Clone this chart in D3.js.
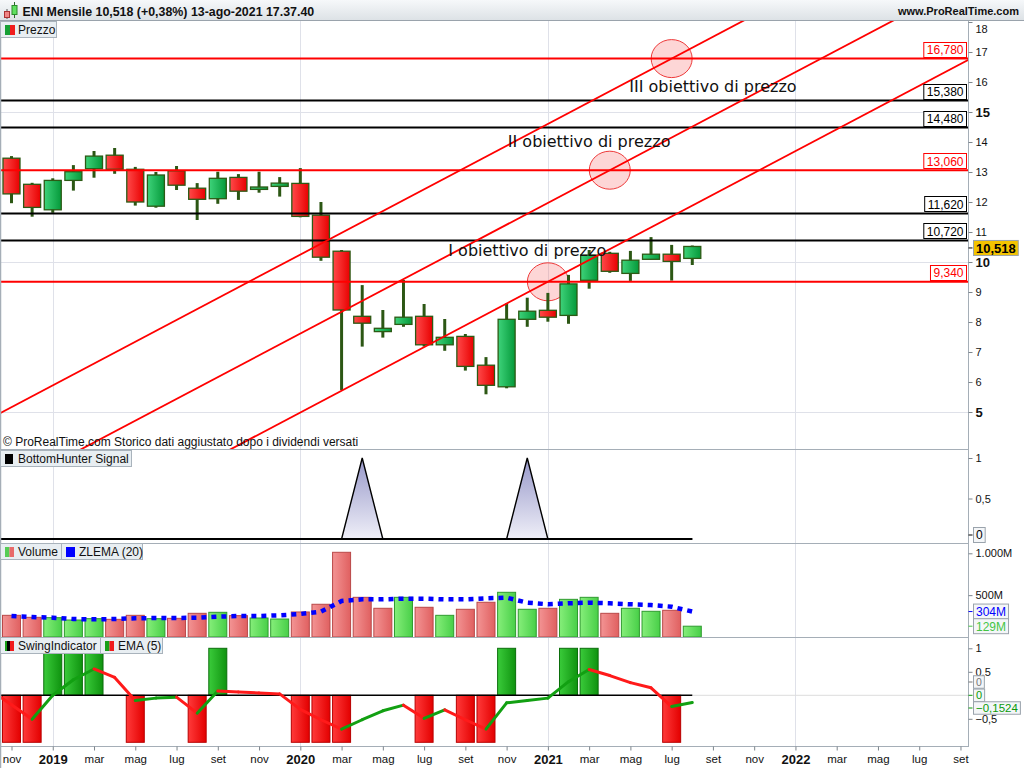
<!DOCTYPE html>
<html>
<head>
<meta charset="utf-8">
<title>ENI Mensile</title>
<script src="https://cdn.jsdelivr.net/npm/d3@7"></script>
<style>
  html, body { margin: 0; padding: 0; background: #ffffff; }
  svg { display: block; }
  text { font-family: "Liberation Sans", Arial, sans-serif; }
</style>
</head>
<body>
<svg id="chart" width="1024" height="768"></svg>
<script>
// ---------- data (monthly bars, Nov 2018 .. Aug 2021) ----------
const months = ["2018-11","2018-12","2019-01","2019-02","2019-03","2019-04","2019-05","2019-06",
  "2019-07","2019-08","2019-09","2019-10","2019-11","2019-12","2020-01","2020-02","2020-03",
  "2020-04","2020-05","2020-06","2020-07","2020-08","2020-09","2020-10","2020-11","2020-12",
  "2021-01","2021-02","2021-03","2021-04","2021-05","2021-06","2021-07","2021-08"];

const open  = [13.46,12.59,11.74,12.72,13.11,13.56,13.09,11.86,13.04,12.46,12.11,12.82,12.42,12.52,
  12.62,11.56,10.36,8.19,7.68,7.92,8.19,7.24,7.52,6.56,5.84,8.09,8.39,8.22,9.39,10.29,9.62,10.09,10.26,10.12];
const high  = [13.53,12.64,12.79,13.23,13.70,13.80,13.17,13.00,13.20,12.63,13.01,12.93,13.01,12.83,
  13.13,12.00,10.40,9.23,8.40,9.40,8.60,8.10,7.60,6.83,8.62,8.81,8.97,9.57,10.40,10.34,10.37,10.83,10.57,10.55];
const low   = [11.96,11.51,11.64,12.38,12.81,12.94,11.88,11.81,12.40,11.40,11.94,12.07,12.31,12.18,
  11.49,10.04,5.73,7.18,7.48,7.84,7.18,7.04,6.38,5.59,5.79,7.84,8.01,7.94,9.11,9.64,9.37,10.09,9.38,9.90];
const close = [12.27,11.82,12.72,13.01,13.53,13.09,12.00,12.90,12.56,12.09,12.79,12.36,12.50,12.63,
  11.52,10.16,8.40,7.96,7.79,8.16,7.24,7.49,6.52,5.89,8.09,8.36,8.16,9.27,10.23,9.69,10.06,10.26,10.02,10.518];
const lastPrice = 10.518;

// volume and ZLEMA(20), millions of shares
const volume = [259,235,231,203,219,211,259,219,223,283,295,255,227,215,299,391,1012,474,343,474,
  355,259,331,415,534,331,343,450,474,283,343,307,319,129];
const zlema  = [251,239,231,215,211,215,223,227,227,231,243,251,251,259,275,302,430,450,450,458,
  458,450,450,462,470,410,391,403,410,403,391,382,362,304];

// BottomHunter signal (value of the month before the first bar, then one per bar)
const bottomHunterPrev = 0;
const bottomHunter = [0,0,0,0,0,0,0,0,0,0,0,0,0,0,0,0,0,1,0,0,0,0,0,0,0,1,0,0,0,0,0,0,0,0];

// SwingIndicator and its EMA(5)
const swing = [-1,-1,1,1,1,0,-1,0,0,-1,1,0,0,0,-1,-1,-1,0,0,0,-1,0,-1,-1,1,0,0,1,1,0,0,0,-1,0];
const emaPrev = 0.10;
const ema5 = [-0.20,-0.51,0.00,0.33,0.56,0.38,-0.11,-0.06,-0.04,-0.38,0.09,0.07,0.05,0.03,-0.30,
  -0.52,-0.72,-0.52,-0.33,-0.21,-0.49,-0.31,-0.52,-0.72,-0.16,-0.11,-0.06,0.29,0.55,0.42,0.27,0.16,-0.24,-0.1524];

// horizontal price levels
const redLevels   = [16.78, 13.06, 9.34];
const blackLevels = [15.38, 14.48, 11.62, 10.72];

// rising channel: one line through each target point, common slope (price per month)
const targetMonth = [26, 29, 32];          // Jan 2021, Apr 2021, Jul 2021
const targetPrice = [9.34, 13.06, 16.78];
const channelSlope = 0.363;
const targetText  = ["I obiettivo di prezzo", "II obiettivo di prezzo", "III obiettivo di prezzo"];
const targetTextMonth = [25, 28, 34];
const targetTextPrice = [10.20, 13.83, 15.67];

// axis ticks
const priceTicks = [5,6,7,8,9,10,11,12,13,14,15,16,17,18];
const priceBold  = [5,10,15];
const timeTickIdx = [0,2,4,6,8,10,12,14,16,18,20,22,24,26,28,30,32,34,36,38,40,42,44,46];
const timeTickLabels = ["nov","2019","mar","mag","lug","set","nov","2020","mar","mag","lug","set",
  "nov","2021","mar","mag","lug","set","nov","2022","mar","mag","lug","set"];
const yearIdx = [2,14,26,38];

// ---------- layout ----------
const W = 1024, H = 768, AX = 969;
const FONT = '"Liberation Sans", Arial, sans-serif';
const svg = d3.select("#chart");
const defs = svg.append("defs");
const it = d3.formatLocale({decimal: ",", thousands: ".", grouping: [3], currency: ["€", ""]});

const x = d3.scaleLinear().domain([0, 46]).range([11.5, 11.5 + 46 * 20.63]);
const yP = d3.scaleLinear().domain([5, 18]).range([412, 22]);
const yB = d3.scaleLinear().domain([0, 1]).range([539, 458]);
const yV = d3.scaleLinear().domain([0, 1000]).range([637, 553.3]);
const yS = d3.scaleLinear().domain([-1, 1]).range([742.3, 648.3]);

const panels = {
  price: [21, 449], bh: [450, 543], vol: [544, 637], sw: [638, 746]
};

function grad(id, c0, c1, vertical, y0, y1) {
  const g = defs.append("linearGradient").attr("id", id);
  if (vertical) {
    g.attr("gradientUnits", "userSpaceOnUse").attr("x1", 0).attr("x2", 0).attr("y1", y0).attr("y2", y1);
  } else {
    g.attr("x1", 0).attr("x2", 1).attr("y1", 0).attr("y2", 0);
  }
  g.append("stop").attr("offset", 0).attr("stop-color", c0);
  g.append("stop").attr("offset", 1).attr("stop-color", c1);
}
grad("candleUp", "#3ed37a", "#05993a");
grad("candleDn", "#ff4a4a", "#e80000");
grad("volUp", "#86ee7a", "#48cf48");
grad("volDn", "#f39494", "#e06060");
grad("swUp", "#3acb3a", "#0f930f");
grad("swDn", "#ff3a3a", "#e30000");
grad("header", "#f6f8fa", "#dde2e6", true, 0, 20);
grad("bhFill", "#9798c9", "#efeff8", true, 458, 539);

for (const [k, [y0, y1]] of Object.entries(panels)) {
  defs.append("clipPath").attr("id", "clip-" + k)
    .append("rect").attr("x", 0).attr("y", y0).attr("width", AX).attr("height", y1 - y0);
}

svg.append("rect").attr("width", W).attr("height", H).attr("fill", "#ffffff");

// ---------- vertical grid (year starts) ----------
const grid = svg.append("g");
for (const [k, [y0, y1]] of Object.entries(panels)) {
  grid.selectAll(null).data(yearIdx).join("line")
    .attr("x1", d => Math.round(x(d)) + 0.5).attr("x2", d => Math.round(x(d)) + 0.5)
    .attr("y1", y0).attr("y2", y1).attr("stroke", "#dfe1e9").attr("stroke-width", 1);
}
grid.selectAll(null).data(priceBold).join("line")
  .attr("x1", 0).attr("x2", AX).attr("y1", d => Math.round(yP(d)) + 0.5).attr("y2", d => Math.round(yP(d)) + 0.5)
  .attr("stroke", "#dfe1e9");

// ---------- price panel ----------
const gP = svg.append("g").attr("clip-path", "url(#clip-price)");

// target circles
gP.selectAll("ellipse").data(targetMonth).join("ellipse")
  .attr("cx", d => x(d)).attr("cy", (d, i) => yP(targetPrice[i]))
  .attr("rx", 20.5).attr("ry", 19)
  .attr("fill", "rgba(250,120,120,0.30)").attr("stroke", "#ee3a3a").attr("stroke-width", 1);

// candles
const bars = months.map((m, i) => ({i, o: open[i], h: high[i], l: low[i], c: close[i]}));
const gC = gP.append("g");
gC.selectAll("line.wick").data(bars).join("line").attr("class", "wick")
  .attr("x1", d => x(d.i)).attr("x2", d => x(d.i))
  .attr("y1", d => yP(d.h)).attr("y2", d => yP(d.l))
  .attr("stroke", "#2c5714").attr("stroke-width", 3);
gC.selectAll("rect.body").data(bars).join("rect").attr("class", "body")
  .attr("x", d => x(d.i) - 8.5).attr("width", 17)
  .attr("y", d => yP(Math.max(d.o, d.c)))
  .attr("height", d => Math.max(2, Math.abs(yP(d.o) - yP(d.c))))
  .attr("fill", d => d.c >= d.o ? "url(#candleUp)" : "url(#candleDn)")
  .attr("stroke", "#2c5a14").attr("stroke-width", 1.3);

// horizontal levels
const levels = redLevels.map(v => ({v, col: "#ff0000"})).concat(blackLevels.map(v => ({v, col: "#000000"})));
gP.selectAll("line.level").data(levels).join("line").attr("class", "level")
  .attr("x1", 0).attr("x2", AX).attr("y1", d => yP(d.v)).attr("y2", d => yP(d.v))
  .attr("stroke", d => d.col).attr("stroke-width", 2);

// channel lines
gP.selectAll("line.chan").data(targetMonth).join("line").attr("class", "chan")
  .attr("x1", x(-2)).attr("x2", x(50))
  .attr("y1", (d, i) => yP(targetPrice[i] + (-2 - d) * channelSlope))
  .attr("y2", (d, i) => yP(targetPrice[i] + (50 - d) * channelSlope))
  .attr("stroke", "#ff0000").attr("stroke-width", 1.8);

// target captions
gP.selectAll("text.target").data(targetText).join("text").attr("class", "target")
  .attr("x", (d, i) => x(targetTextMonth[i])).attr("y", (d, i) => yP(targetTextPrice[i]))
  .attr("text-anchor", "middle").style("font-family", '"DejaVu Sans", sans-serif')
  .attr("font-size", 16).attr("fill", "#111").text(d => d);

// level value boxes at the right edge
const gLab = svg.append("g");
levels.forEach(d => {
  const t = gLab.append("text").attr("font-size", 12).attr("fill", d.col)
    .attr("text-anchor", "end").attr("x", 963.5).attr("y", yP(d.v) - 4.5)
    .text(it.format(".3f")(d.v));
  const w = t.node().getComputedTextLength() + 6;
  gLab.insert("rect", "text").attr("x", 966.5 - w).attr("y", Math.round(yP(d.v)) - 16.5)
    .attr("width", w).attr("height", 15).attr("fill", "#fff").attr("stroke", d.col).attr("stroke-width", 1);
});

svg.append("text").attr("x", 3).attr("y", 446).attr("font-size", 12).attr("fill", "#111")
  .text("© ProRealTime.com  Storico dati aggiustato dopo i dividendi versati");

// ---------- BottomHunter panel ----------
const gB = svg.append("g").attr("clip-path", "url(#clip-bh)");
const bhData = [{i: -1, v: bottomHunterPrev}].concat(bottomHunter.map((v, i) => ({i, v})));
gB.append("path").datum(bhData)
  .attr("d", d3.area().x(d => x(d.i)).y0(yB(0)).y1(d => yB(d.v)))
  .attr("fill", "url(#bhFill)");
gB.append("path").datum(bhData)
  .attr("d", d3.line().x(d => x(d.i)).y(d => yB(d.v)))
  .attr("fill", "none").attr("stroke", "#000").attr("stroke-width", 1.4);
gB.append("line").attr("x1", 0).attr("x2", x(33)).attr("y1", yB(0)).attr("y2", yB(0))
  .attr("stroke", "#000").attr("stroke-width", 2);

// ---------- Volume panel ----------
const gV = svg.append("g").attr("clip-path", "url(#clip-vol)");
const volUp = volume.map((v, i) => i === 0 ? close[0] >= open[0] : close[i] >= close[i - 1]);
gV.selectAll("rect").data(volume).join("rect")
  .attr("x", (d, i) => x(i) - 9).attr("width", 18)
  .attr("y", d => yV(d)).attr("height", d => yV(0) - yV(d))
  .attr("fill", (d, i) => volUp[i] ? "url(#volUp)" : "url(#volDn)")
  .attr("stroke", (d, i) => volUp[i] ? "#2f9b2f" : "#b94848").attr("stroke-width", 1);
gV.append("path").datum(zlema)
  .attr("d", d3.line().x((d, i) => x(i)).y(d => yV(d)))
  .attr("fill", "none").attr("stroke", "#0000ff").attr("stroke-width", 4.5)
  .attr("stroke-dasharray", "5,5");

// ---------- Swing panel ----------
const gS = svg.append("g").attr("clip-path", "url(#clip-sw)");
gS.append("line").attr("x1", x(33)).attr("x2", AX).attr("y1", yS(0)).attr("y2", yS(0))
  .attr("stroke", "#dcdcdc").attr("stroke-width", 1);
const swBars = swing.map((v, i) => ({i, v})).filter(d => d.v !== 0);
gS.selectAll("rect").data(swBars).join("rect")
  .attr("x", d => x(d.i) - 9).attr("width", 18)
  .attr("y", d => Math.min(yS(0), yS(d.v))).attr("height", d => Math.abs(yS(d.v) - yS(0)))
  .attr("fill", d => d.v > 0 ? "url(#swUp)" : "url(#swDn)")
  .attr("stroke", d => d.v > 0 ? "#0b6e0b" : "#b80000").attr("stroke-width", 1);
gS.append("line").attr("x1", 0).attr("x2", x(33)).attr("y1", yS(0)).attr("y2", yS(0))
  .attr("stroke", "#000").attr("stroke-width", 1.5);
const emaPts = [{i: -1, v: emaPrev}].concat(ema5.map((v, i) => ({i, v})));
const emaSeg = d3.pairs(emaPts);
gS.selectAll("line.ema").data(emaSeg).join("line").attr("class", "ema")
  .attr("x1", d => x(d[0].i)).attr("y1", d => yS(d[0].v))
  .attr("x2", d => x(d[1].i)).attr("y2", d => yS(d[1].v))
  .attr("stroke", d => d[1].v > d[0].v ? "#12a012" : "#ff1a1a")
  .attr("stroke-width", 3).attr("stroke-linecap", "round");

// ---------- frame ----------
const frame = svg.append("g").attr("stroke", "#a5aeb7").attr("stroke-width", 1);
[449.5, 543.5, 637.5, 746.5].forEach(y => frame.append("line").attr("x1", 0).attr("x2", AX).attr("y1", y).attr("y2", y));
frame.append("line").attr("x1", AX - 0.5).attr("x2", AX - 0.5).attr("y1", 20).attr("y2", 747);
frame.append("line").attr("x1", 0.5).attr("x2", 0.5).attr("y1", 20).attr("y2", 768).attr("stroke-width", 1.5);

// ---------- axes ----------
function styleAxis(g, size) {
  g.select(".domain").remove();
  g.selectAll(".tick line").attr("stroke", "#7d858c");
  g.selectAll(".tick text").attr("fill", "#111").style("font-family", FONT).attr("font-size", size || 11);
}
const axP = svg.append("g").attr("transform", `translate(${AX - 0.5},0)`)
  .call(d3.axisRight(yP).tickValues(priceTicks).tickSize(4).tickPadding(3).tickFormat(d => d));
styleAxis(axP, 11);
axP.selectAll(".tick text").filter(d => priceBold.includes(d)).attr("font-weight", "bold").attr("font-size", 13);
axP.selectAll(".tick").filter(d => d === 18).select("text").attr("dy", "0.95em");

const axB = svg.append("g").attr("transform", `translate(${AX - 0.5},0)`)
  .call(d3.axisRight(yB).tickValues([1, 0.5]).tickSize(4).tickPadding(3).tickFormat(it.format("~g")));
styleAxis(axB, 11);

const axV = svg.append("g").attr("transform", `translate(${AX - 0.5},0)`)
  .call(d3.axisRight(yV).tickValues([1000, 500]).tickSize(4).tickPadding(3).tickFormat(d => it.format(",")(d) + "M"));
styleAxis(axV, 11);

const axS = svg.append("g").attr("transform", `translate(${AX - 0.5},0)`)
  .call(d3.axisRight(yS).tickValues([1, 0.5, -0.5]).tickSize(4).tickPadding(3).tickFormat(it.format("~g")));
styleAxis(axS, 11);

const axT = svg.append("g").attr("transform", "translate(0,746.5)")
  .call(d3.axisBottom(x).tickValues(timeTickIdx).tickSize(4).tickPadding(4).tickFormat((d, i) => timeTickLabels[i]));
styleAxis(axT, 11.5);
axT.selectAll(".tick text").filter((d, i) => /^\d{4}$/.test(timeTickLabels[i]))
  .attr("font-weight", "bold").attr("font-size", 13);

// current value boxes on the right axis
function valueBox(yc, label, color, opts = {}) {
  const g = svg.append("g");
  const hh = opts.h || 15, fs = opts.size || 12;
  g.append("line").attr("x1", AX - 0.5).attr("x2", AX + 3.5).attr("y1", yc).attr("y2", yc)
    .attr("stroke", color).attr("stroke-width", 1);
  const t = g.append("text").attr("x", 976).attr("y", yc + fs * 0.36)
    .attr("font-size", fs).attr("font-weight", opts.bold ? "bold" : null)
    .attr("fill", opts.textColor || color).text(label);
  const w = t.node().getComputedTextLength() + 5;
  g.insert("rect", "text").attr("x", 973.5).attr("y", yc - hh / 2).attr("width", w).attr("height", hh)
    .attr("fill", opts.fill || "#f4f6f8").attr("stroke", "#9aa3ac").attr("stroke-width", 1);
}
valueBox(yP(lastPrice) + 1.5, it.format(".3f")(lastPrice), "#000", {bold: true, size: 13, fill: "#f4c300"});
valueBox(535, "0", "#000", {});
valueBox(yV(zlema[zlema.length - 1]), it.format("d")(zlema[zlema.length - 1]) + "M", "#0000ff", {});
valueBox(yV(volume[volume.length - 1]), it.format("d")(volume[volume.length - 1]) + "M", "#44c544", {});
valueBox(682, "0", "#777", {h: 12.5, size: 10.5});
valueBox(yS(0), "0", "#0a9a0a", {h: 12.5, size: 11});
valueBox(708, it.format(".4f")(ema5[ema5.length - 1]), "#0a9a0a", {h: 12.5, size: 11.5});

// ---------- header ----------
svg.append("rect").attr("x", 0).attr("y", 0).attr("width", W).attr("height", 20).attr("fill", "url(#header)");
svg.append("line").attr("x1", 0).attr("x2", W).attr("y1", 20.5).attr("y2", 20.5).attr("stroke", "#9aa3ac");
const icon = svg.append("g");
icon.append("line").attr("x1", 7).attr("x2", 7).attr("y1", 9).attr("y2", 19).attr("stroke", "#555");
icon.append("rect").attr("x", 4.5).attr("y", 11.5).attr("width", 5).attr("height", 6).attr("fill", "#f08585").attr("stroke", "#a33");
icon.append("line").attr("x1", 14.5).attr("x2", 14.5).attr("y1", 2).attr("y2", 18).attr("stroke", "#2a6a2a");
icon.append("rect").attr("x", 12).attr("y", 5.5).attr("width", 5).attr("height", 9).attr("fill", "#5fe05f").attr("stroke", "#2a8a2a");
svg.append("text").attr("x", 22.5).attr("y", 15.5).attr("font-size", 12.4).attr("font-weight", "bold").attr("fill", "#111")
  .text("ENI Mensile 10,518 (+0,38%) 13-ago-2021 17.37.40");
svg.append("text").attr("x", 1019).attr("y", 15).attr("text-anchor", "end").attr("font-size", 11).attr("font-weight", "bold").attr("fill", "#111")
  .text("www.ProRealTime.com");

// ---------- legends ----------
function legendBox(x0, y0, w, label, drawIcon) {
  const g = svg.append("g");
  g.append("rect").attr("x", x0 + 0.5).attr("y", y0 + 0.5).attr("width", w).attr("height", 16)
    .attr("fill", "#e8eef2").attr("stroke", "#a9b3bc");
  drawIcon(g, x0 + 5, y0 + 4);
  g.append("text").attr("x", x0 + 18).attr("y", y0 + 13).attr("font-size", 12).attr("fill", "#111").text(label);
}
function stripes(cols, widths) {
  return (g, ix, iy) => {
    let xx = ix;
    cols.forEach((c, k) => {
      g.append("rect").attr("x", xx).attr("y", iy).attr("width", widths[k]).attr("height", 10).attr("fill", c);
      xx += widths[k];
    });
  };
}
legendBox(0, 21, 56, "Prezzo", stripes(["#15a035", "#f01c1c"], [5, 5]));
legendBox(0, 450, 131, "BottomHunter Signal", stripes(["#000"], [8]));
legendBox(0, 543, 61, "Volume", stripes(["#55cc55", "#e86a6a"], [4.5, 4.5]));
legendBox(61, 543, 81, "ZLEMA (20)", stripes(["#0000ff"], [9]));
legendBox(0, 637, 100, "SwingIndicator", stripes(["#17a017", "#000", "#f01c1c"], [2, 3, 4]));
legendBox(100, 637, 62, "EMA (5)", stripes(["#17a017", "#f01c1c"], [4.5, 4.5]));
</script>
</body>
</html>
